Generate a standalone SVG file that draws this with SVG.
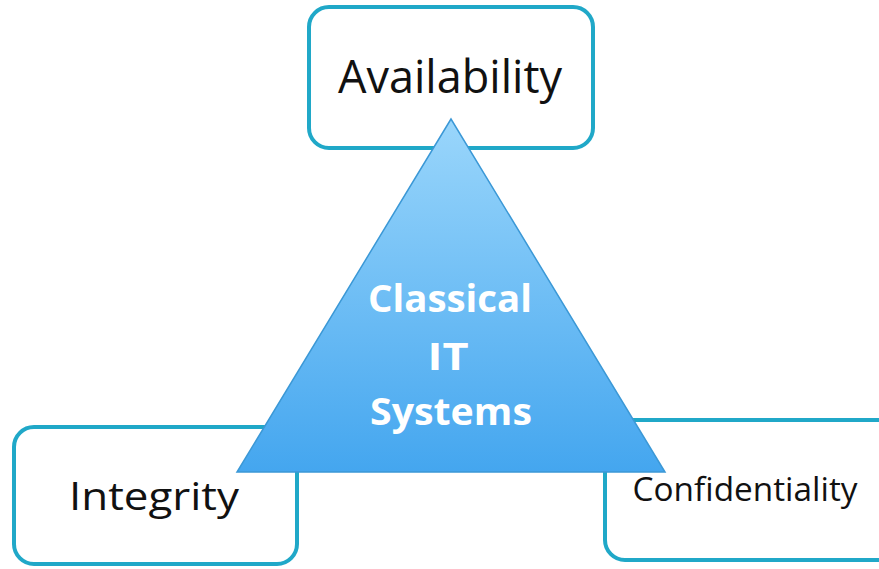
<svg xmlns="http://www.w3.org/2000/svg" width="879" height="569" viewBox="0 0 879 569">
<style>
.box{fill:#fff;stroke:#20a8c8;stroke-width:4}
.lbl{font-family:"Open Sans","Noto Sans","DejaVu Sans",sans-serif;fill:#111;text-anchor:middle}
.tri{font-family:"Open Sans","Noto Sans","DejaVu Sans",sans-serif;font-weight:bold;fill:#fff;text-anchor:middle;font-size:38px}
</style>
<defs>
<linearGradient id="g" x1="0" y1="0" x2="0" y2="1">
<stop offset="0" stop-color="#9ad6fb"/>
<stop offset="1" stop-color="#44a6ef"/>
</linearGradient>
</defs>
<g id="availability">
<rect class="box" x="309" y="7" width="284" height="141" rx="20"/>
<text class="lbl" x="450" y="93" font-size="45" textLength="224" lengthAdjust="spacingAndGlyphs">Availability</text>
</g>
<g id="integrity">
<rect class="box" x="14" y="427" width="283" height="137" rx="20"/>
<text class="lbl" x="154" y="510" font-size="39" textLength="170" lengthAdjust="spacingAndGlyphs">Integrity</text>
</g>
<g id="confidentiality">
<rect class="box" x="605" y="420" width="300" height="140" rx="20"/>
<text class="lbl" x="745" y="501" font-size="32" textLength="225" lengthAdjust="spacingAndGlyphs">Confidentiality</text>
</g>
<g id="classical-it-systems">
<polygon points="451,119 237,472 665,472" fill="url(#g)" stroke="#3b98d6" stroke-width="1.5"/>
<text class="tri" x="450" y="312" textLength="164" lengthAdjust="spacingAndGlyphs">Classical</text>
<text class="tri" x="448" y="370" textLength="41" lengthAdjust="spacingAndGlyphs">IT</text>
<text class="tri" x="451" y="425" textLength="162" lengthAdjust="spacingAndGlyphs">Systems</text>
</g>
<g id="connectors"/>
</svg>
